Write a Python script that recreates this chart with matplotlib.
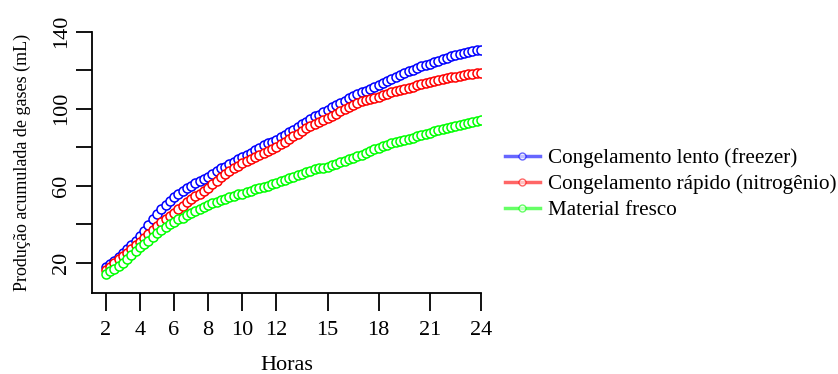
import numpy as np
import matplotlib
matplotlib.use("Agg")
import matplotlib.pyplot as plt

plt.rcParams['font.family'] = ['Liberation Serif', 'DejaVu Serif']

# leituras a cada 15 min, de 2 a 24 h
horas = np.arange(2, 24.01, 0.25)

lento = [18, 19.5, 21, 23, 25, 27, 29.5, 31.5, 34, 36.5, 39.5, 42.5, 45.5, 48, 50, 52,
         54, 56, 57.5, 59, 60, 61.5, 62.5, 63.5, 64.5, 66, 67.5, 69, 70, 71.5, 72.5, 74,
         75, 76, 77, 78.5, 79.5, 81, 82, 83, 84, 85.5, 86.5, 88, 89, 90.5, 92, 93, 94.5,
         96, 97, 98.5, 99.5, 101, 102, 103, 104, 105.5, 106.5, 107.5, 108.5, 109.5, 110.5,
         111.5, 112.5, 113.5, 114.5, 115.5, 116.5, 117.5, 118.5, 119.5, 120, 121, 122, 123,
         123.5, 124.5, 125, 126, 126.5, 127.5, 128, 128.5, 129, 129.5, 130, 130.5, 130.5]

rapido = [16.5, 18, 20, 22, 23.5, 25, 27, 29, 31, 33, 35, 37, 39, 41, 42.5, 44.5, 46, 48,
          49.5, 51.5, 53, 54.5, 56, 57.5, 59, 61, 62.5, 64.5, 66, 67.5, 69, 70.5, 72, 73,
          74, 75, 76, 77, 78, 79, 80, 81.5, 83, 84.5, 86, 87, 88.5, 90, 91, 92, 93, 94, 95,
          96.5, 97.5, 99, 100, 101, 102, 103, 104, 104.5, 105, 105.5, 106, 107, 107.5,
          108.5, 109, 110, 110.5, 111, 111.5, 112.5, 113, 113.5, 114, 114.5, 115, 115.5,
          116, 116.5, 116.5, 117, 117.5, 118, 118, 118.5, 118.5]

fresco = [14, 15.5, 17, 18.5, 20, 22, 24, 26, 28, 30, 31.5, 33.5, 35.5, 37, 38.5, 40, 41,
          42.5, 43.5, 45, 46, 47, 48, 49, 50, 51, 51.5, 52.5, 53, 54, 54.5, 55.5, 56, 57,
          57.5, 58.5, 59, 59.5, 60, 61, 61.5, 62.5, 63, 64, 64.5, 65.5, 66, 67, 67.5, 68.5,
          69, 69.5, 70, 71, 71.5, 72.5, 73, 74, 74.5, 75.5, 76, 77, 78, 79, 79.5, 80.5, 81,
          82, 82.5, 83.5, 84, 84.5, 85, 86, 86.5, 87, 87.5, 88.5, 89, 89.5, 90, 90.5, 91,
          91.5, 92, 92.5, 93, 93.5, 94]

nomes = ['Congelamento lento (freezer)', 'Congelamento rápido (nitrogênio)', 'Material fresco']
cores = ['#0000ff', '#ff0000', '#00ff00']

xticks = [2, 4, 6, 8, 10, 12, 15, 18, 21, 24]
yticks = [20, 40, 60, 80, 100, 120, 140]
ylabels = ['20', '', '60', '', '100', '', '140']

fig = plt.figure(figsize=(8.38, 3.74), dpi=100)
ax = fig.add_axes([0.110, 0.217, 0.464, 0.698])

for serie, cor in zip([lento, rapido, fresco], cores):
    ax.plot(horas, serie, '-o', color=cor, markersize=6.5, markerfacecolor='white',
            markeredgewidth=1.1, linewidth=1.6)

ax.set_xlim(1.2, 24)
ax.set_ylim(4.4, 140)
ax.spines['top'].set_visible(False)
ax.spines['right'].set_visible(False)
ax.spines['left'].set_linewidth(1.3)
ax.spines['bottom'].set_linewidth(1.3)

ax.set_xticks(xticks)
ax.set_xticklabels([str(v) for v in xticks], fontsize=16)
ax.set_yticks(yticks)
ax.set_yticklabels(ylabels, fontsize=16, rotation=90, va='center')
ax.tick_params(axis='x', length=13, width=1.3, pad=7)
ax.tick_params(axis='y', length=11.5, width=1.3, pad=4)

ax.set_xlabel('Horas', fontsize=16, labelpad=12)
ax.set_ylabel('Produção acumulada de gases (mL)', fontsize=13, labelpad=15)

# legenda
handles = [plt.Line2D([], [], color=c, alpha=0.6, linewidth=2.5, marker='o',
                      markersize=5, markerfacecolor='white', markeredgecolor=c)
           for c in cores]
fig.legend(handles, nomes, loc='upper left', bbox_to_anchor=(0.6026, 0.604),
           frameon=False, fontsize=15.2, handlelength=1.65, handletextpad=0.38,
           labelspacing=0.3, borderpad=0, borderaxespad=0)

fig.savefig('out.png', dpi=100)
